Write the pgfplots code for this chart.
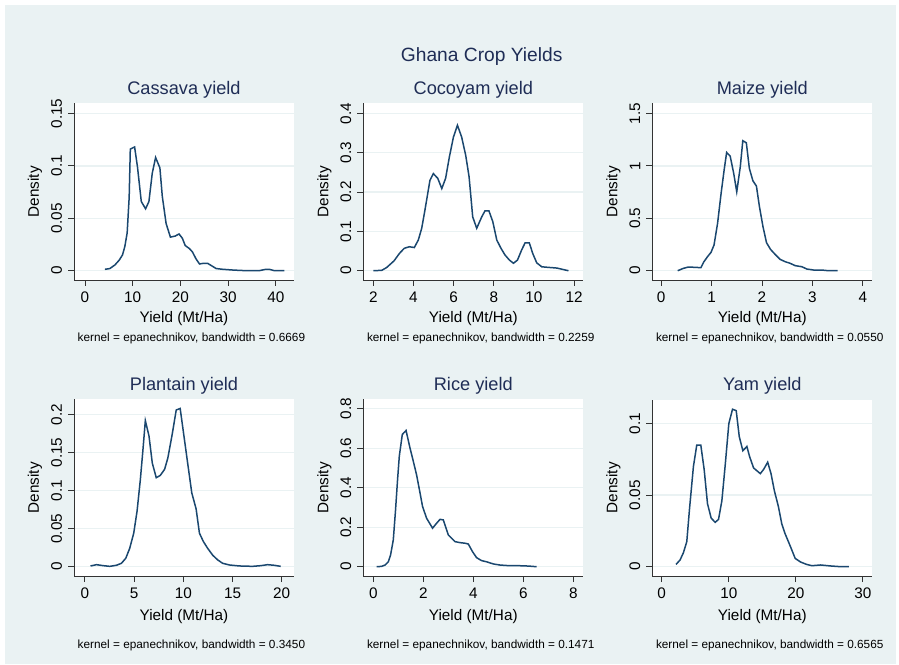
\documentclass[border=0pt]{standalone}
\usepackage{pgfplots}
\pgfplotsset{compat=1.18}
\usepackage{fontspec}
\setmainfont{Liberation Sans}
\definecolor{bgc}{HTML}{EAF2F3}
\definecolor{linec}{HTML}{1A476F}
\definecolor{titlec}{HTML}{1F2D56}
\definecolor{axc}{HTML}{333333}
\newcommand{\tickfont}{\fontsize{15.3}{16}\selectfont}
\pgfplotsset{
  stata/.style={
    scale only axis, width=220pt, height=176.5pt,
    axis background/.style={fill=white},
    axis x line*=bottom, axis y line*=left,
    axis line style={-, draw=axc, line width=0.9pt},
    tick align=outside, major tick length=6pt,
    every tick/.style={draw=axc, line width=0.9pt},
    ymajorgrids, xmajorgrids=false,
    major grid style={draw=bgc, line width=1.3pt},
    /pgf/number format/assume math mode=true,
    yticklabel shift=2.5pt, xticklabel shift=2pt,
    yticklabel style={rotate=90, anchor=south, font=\tickfont, text=black},
    xticklabel style={font=\tickfont, text=black},
    every axis title/.style={at={(axis description cs:0.5,1)}, anchor=center, yshift=13.5pt, font=\fontsize{18.2}{19}\selectfont, text=titlec},
    every axis y label/.style={at={(axis description cs:0,0.5)}, anchor=center, xshift=-39pt, rotate=90, font=\tickfont},
    ylabel={Density}, xlabel={Yield (Mt/Ha)},
    clip=false,
  },
  row1/.style={every axis x label/.style={at={(axis description cs:0.5,0)}, anchor=center, yshift=-38.5pt, font=\tickfont}},
  row2/.style={every axis x label/.style={at={(axis description cs:0.5,0)}, anchor=center, yshift=-41pt, font=\tickfont}},
  dens/.style={color=linec, line width=1.5pt, no markers},
}
\newcommand{\kernnote}[2]{\node[anchor=west, font=\fontsize{11.8}{12}\selectfont, inner sep=0pt] at (axis description cs:0,0) [xshift=3.5pt, yshift=#2] {kernel = epanechnikov, bandwidth = #1};}
\begin{document}
\begin{tikzpicture}
\useasboundingbox (0,0) rectangle (899pt,664pt);
\fill[white] (0,0) rectangle (899pt,664pt);
\fill[bgc] (5pt,0pt) rectangle (896pt,659pt);
\node[font=\fontsize{19.2}{20}\selectfont, text=titlec] at (481.7pt,607pt) {Ghana Crop Yields};

% Cassava
\begin{axis}[stata, row1, at={(74pt,384pt)}, anchor=south west,
  title={Cassava yield},
  xmin=-2.3, xmax=43.8, ymin=-0.0089, ymax=0.1595,
  xtick={0,10,20,30,40}, xticklabels={0,10,20,30,40},
  ytick={0,0.05,0.1,0.15}, yticklabels={0,0.05,0.1,0.15}]
\addplot[dens] coordinates {
(4.18,0.0013) (5.2,0.002) (6.26,0.0054) (7.17,0.010) (7.86,0.015) (8.35,0.023) (8.84,0.036) (9.26,0.070) (9.5,0.116) (10.4,0.118) (11.0,0.099) (11.8,0.066) (12.7,0.059) (13.4,0.066) (14.1,0.093) (14.8,0.108) (15.7,0.098) (16.2,0.071) (17.0,0.045) (17.9,0.032) (18.9,0.033) (19.7,0.035) (20.4,0.031) (21.0,0.024) (21.9,0.021) (22.5,0.018) (23.3,0.011) (24.0,0.0064) (24.8,0.007) (25.7,0.007) (26.6,0.0045) (27.5,0.002) (28.9,0.0013) (31.0,0.0006) (33.7,0.0) (36.5,0.0) (37.9,0.0013) (38.6,0.0013) (39.7,0.0) (41.8,0.0)
};
\kernnote{0.6669}{-58pt}
\end{axis}

% Cocoyam
\begin{axis}[stata, row1, at={(363.3pt,384pt)}, anchor=south west,
  title={Cocoyam yield},
  xmin=1.5, xmax=12.46, ymin=-0.0236, ymax=0.4254,
  xtick={2,4,6,8,10,12}, xticklabels={2,4,6,8,10,12},
  ytick={0,0.1,0.2,0.3,0.4}, yticklabels={0,0.1,0.2,0.3,0.4}]
\addplot[dens] coordinates {
(2.0,0) (2.42,0.001) (2.66,0.008) (3.03,0.025) (3.30,0.044) (3.54,0.057) (3.79,0.061) (4.04,0.059) (4.24,0.078) (4.41,0.108) (4.57,0.154) (4.82,0.23) (4.99,0.247) (5.21,0.235) (5.41,0.209) (5.60,0.235) (5.79,0.29) (5.99,0.34) (6.19,0.370) (6.40,0.34) (6.60,0.294) (6.77,0.239) (6.95,0.137) (7.15,0.108) (7.40,0.137) (7.56,0.152) (7.76,0.152) (7.95,0.125) (8.15,0.078) (8.36,0.057) (8.56,0.040) (8.78,0.027) (8.98,0.019) (9.18,0.027) (9.39,0.053) (9.56,0.071) (9.77,0.071) (9.94,0.044) (10.14,0.020) (10.39,0.010) (10.72,0.0085) (11.14,0.0068) (11.72,0.0)
};
\kernnote{0.2259}{-58pt}
\end{axis}

% Maize
\begin{axis}[stata, row1, at={(652.3pt,384pt)}, anchor=south west,
  title={Maize yield},
  xmin=-0.173, xmax=4.186, ymin=-0.0886, ymax=1.595,
  xtick={0,1,2,3,4}, xticklabels={0,1,2,3,4},
  ytick={0,0.5,1,1.5}, yticklabels={0,0.5,1,1.5}]
\addplot[dens] coordinates {
(0.33,0) (0.44,0.022) (0.54,0.035) (0.68,0.032) (0.79,0.029) (0.85,0.086) (0.92,0.133) (0.99,0.175) (1.05,0.245) (1.12,0.451) (1.19,0.737) (1.25,0.96) (1.30,1.128) (1.37,1.093) (1.44,0.928) (1.50,0.753) (1.57,0.99) (1.62,1.24) (1.69,1.22) (1.75,0.976) (1.82,0.858) (1.89,0.807) (1.95,0.61) (2.02,0.42) (2.09,0.267) (2.17,0.203) (2.26,0.156) (2.36,0.108) (2.46,0.086) (2.56,0.070) (2.66,0.048) (2.79,0.038) (2.89,0.016) (3.03,0.006) (3.19,0.006) (3.32,0) (3.50,0)
};
\kernnote{0.0550}{-58pt}
\end{axis}

% Plantain
\begin{axis}[stata, row2, at={(74pt,88pt)}, anchor=south west,
  title={Plantain yield},
  xmin=-1.11, xmax=21.25, ymin=-0.0123, ymax=0.2198,
  xtick={0,5,10,15,20}, xticklabels={0,5,10,15,20},
  ytick={0,0.05,0.1,0.15,0.2}, yticklabels={0,0.05,0.1,0.15,0.2}]
\addplot[dens] coordinates {
(0.57,0.0009) (1.18,0.0026) (1.86,0.0013) (2.53,0.0004) (3.2,0.0018) (3.71,0.0044) (4.15,0.011) (4.55,0.024) (4.96,0.044) (5.30,0.073) (5.63,0.114) (5.90,0.154) (6.14,0.192) (6.51,0.172) (6.85,0.136) (7.25,0.117) (7.66,0.120) (8.10,0.128) (8.43,0.143) (8.87,0.174) (9.28,0.206) (9.68,0.208) (10.02,0.176) (10.39,0.141) (10.86,0.097) (11.30,0.076) (11.64,0.044) (12.04,0.033) (12.48,0.024) (12.99,0.015) (13.50,0.0088) (14.0,0.0044) (14.68,0.0022) (15.69,0.0009) (17.04,0.0004) (17.88,0.0013) (18.56,0.0026) (19.23,0.0018) (19.9,0.0004)
};
\kernnote{0.3450}{-69.5pt}
\end{axis}

% Rice
\begin{axis}[stata, row2, at={(363.3pt,88pt)}, anchor=south west,
  title={Rice yield},
  xmin=-0.4, xmax=8.4, ymin=-0.047, ymax=0.847,
  xtick={0,2,4,6,8}, xticklabels={0,2,4,6,8},
  ytick={0,0.2,0.4,0.6,0.8}, yticklabels={0,0.2,0.4,0.6,0.8}]
\addplot[dens] coordinates {
(0.13,0) (0.33,0.0017) (0.47,0.0085) (0.6,0.025) (0.69,0.059) (0.8,0.136) (0.89,0.288) (0.97,0.44) (1.04,0.56) (1.16,0.67) (1.31,0.69) (1.47,0.60) (1.6,0.534) (1.73,0.466) (1.87,0.373) (1.97,0.305) (2.13,0.246) (2.37,0.195) (2.53,0.22) (2.67,0.24) (2.8,0.237) (3.0,0.161) (3.27,0.127) (3.47,0.122) (3.67,0.119) (3.8,0.115) (3.97,0.076) (4.13,0.046) (4.33,0.031) (4.53,0.025) (4.8,0.014) (5.07,0.0085) (5.47,0.005) (5.87,0.005) (6.2,0.0034) (6.53,0)
};
\kernnote{0.1471}{-69.5pt}
\end{axis}

% Yam
\begin{axis}[stata, row2, at={(652.3pt,88pt)}, anchor=south west,
  title={Yam yield},
  xmin=-1.4, xmax=31.4, ymin=-0.0065, ymax=0.1168,
  xtick={0,10,20,30}, xticklabels={0,10,20,30},
  ytick={0,0.05,0.1}, yticklabels={0,0.05,0.1}]
\addplot[dens] coordinates {
(2.14,0.0016) (2.74,0.0047) (3.24,0.0098) (3.74,0.0175) (4.14,0.040) (4.73,0.070) (5.23,0.085) (5.83,0.085) (6.33,0.068) (6.83,0.044) (7.37,0.034) (7.97,0.031) (8.47,0.033) (8.97,0.046) (9.47,0.071) (10.01,0.100) (10.56,0.110) (11.11,0.109) (11.56,0.091) (12.1,0.081) (12.7,0.084) (13.1,0.077) (13.7,0.069) (14.2,0.067) (14.7,0.065) (15.2,0.068) (15.8,0.073) (16.3,0.065) (16.8,0.053) (17.4,0.042) (17.9,0.030) (18.4,0.023) (19.2,0.014) (19.9,0.0058) (20.7,0.0033) (21.6,0.0016) (22.4,0.0007) (23.7,0.0012) (25.2,0.0005) (26.7,0) (27.9,0)
};
\kernnote{0.6565}{-69.5pt}
\end{axis}
\end{tikzpicture}
\end{document}
